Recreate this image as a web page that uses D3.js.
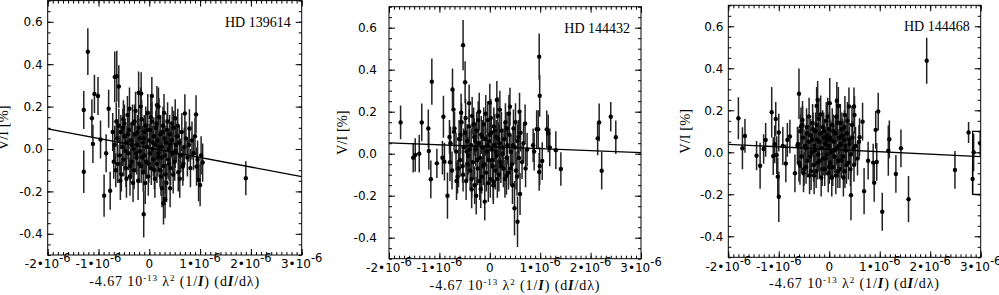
<!DOCTYPE html>
<html>
<head>
<meta charset="utf-8">
<script src="https://cdn.jsdelivr.net/npm/d3@7"></script>
<style>
body { margin: 0; background: #fff; }
</style>
</head>
<body>
<svg></svg>
<script>
var w = 999, h = 295

// star names, one per panel
var starNames = ["HD 139614", "HD 144432", "HD 144468"]

// tick values (x in units of 10^-6)
var xTicks = [-2, -1, 0, 1, 2, 3]
var yTicks = [-0.4, -0.2, 0.0, 0.2, 0.4, 0.6]

// [x (10^-6), V/I (%), error (%)]
var hd139614 = [
    [-1.29, 0.184, 0.09], [-1.29, -0.107, 0.10], [-1.21, 0.459, 0.11], [-1.13, 0.145, 0.09],
    [-1.11, 0.024, 0.09], [-1.08, 0.26, 0.09], [-1.01, 0.25, 0.09], [-0.96, 0.045, 0.09],
    [-0.89, -0.22, 0.10], [-0.85, -0.02, 0.09], [-0.80, 0.19, 0.09], [-0.77, -0.197, 0.09],
    [-0.68, 0.34, 0.12], [-0.64, 0.343, 0.12], [-0.60, 0.295, 0.10], [-0.21, 0.265, 0.10],
    [-0.16, 0.262, 0.10], [-0.11, -0.308, 0.11], [0.05, 0.25, 0.09], [0.15, 0.207, 0.09],
    [0.18, 0.20, 0.09], [0.25, -0.185, 0.09], [0.28, -0.256, 0.10], [0.31, -0.237, 0.09],
    [0.41, -0.185, 0.09], [0.51, 0.145, 0.09], [0.70, 0.168, 0.09], [0.79, 0.097, 0.09],
    [0.92, 0.163, 0.09], [0.97, -0.146, 0.10], [1.00, -0.17, 0.10], [1.05, -0.064, 0.09],
    [1.90, -0.138, 0.08], [0.93, -0.083, 0.09], [0.66, -0.083, 0.09],
    [-0.72, 0.08, 0.09], [-0.70, -0.06, 0.08], [-0.68, 0.02, 0.09], [-0.66, -0.10, 0.08],
    [-0.63, 0.05, 0.09], [-0.62, -0.07, 0.09], [-0.60, 0.11, 0.08], [-0.58, -0.03, 0.09],
    [-0.56, 0.08, 0.08], [-0.55, -0.12, 0.08], [-0.53, 0.01, 0.09], [-0.51, 0.14, 0.09],
    [-0.50, -0.05, 0.08], [-0.48, 0.06, 0.08], [-0.46, -0.09, 0.09], [-0.44, 0.03, 0.08],
    [-0.43, 0.16, 0.09], [-0.41, -0.02, 0.08], [-0.40, 0.09, 0.09], [-0.38, -0.13, 0.09],
    [-0.36, 0.04, 0.08], [-0.35, -0.06, 0.08], [-0.33, 0.12, 0.09], [-0.31, 0.00, 0.08],
    [-0.30, -0.10, 0.09], [-0.28, 0.07, 0.08], [-0.27, 0.18, 0.09], [-0.25, -0.04, 0.08],
    [-0.24, 0.02, 0.09], [-0.22, -0.15, 0.09], [-0.21, 0.10, 0.08], [-0.19, -0.01, 0.08],
    [-0.18, 0.05, 0.09], [-0.16, -0.08, 0.08], [-0.15, 0.14, 0.09], [-0.13, 0.03, 0.08],
    [-0.12, -0.11, 0.09], [-0.10, 0.08, 0.08], [-0.09, -0.03, 0.08], [-0.07, 0.11, 0.09],
    [-0.06, -0.06, 0.08], [-0.05, 0.01, 0.08], [-0.03, 0.17, 0.09], [-0.02, -0.13, 0.09],
    [0.00, 0.04, 0.08], [0.01, -0.02, 0.08], [0.02, 0.09, 0.09], [0.04, -0.09, 0.08],
    [0.05, 0.13, 0.09], [0.06, 0.00, 0.08], [0.08, -0.05, 0.08], [0.09, 0.06, 0.09],
    [0.11, -0.14, 0.09], [0.12, 0.02, 0.08], [0.13, 0.10, 0.08], [0.15, -0.07, 0.09],
    [0.16, 0.04, 0.08], [0.18, -0.02, 0.08], [0.19, 0.15, 0.09], [0.21, -0.10, 0.08],
    [0.22, 0.07, 0.09], [0.24, -0.04, 0.08], [0.25, 0.01, 0.08], [0.27, 0.11, 0.09],
    [0.28, -0.08, 0.08], [0.30, 0.05, 0.09], [0.32, -0.12, 0.09], [0.33, 0.03, 0.08],
    [0.35, 0.09, 0.08], [0.37, -0.05, 0.09], [0.38, 0.00, 0.08], [0.40, 0.07, 0.09],
    [0.42, -0.09, 0.08], [0.44, 0.04, 0.08], [0.46, -0.02, 0.09], [0.48, 0.10, 0.08],
    [0.50, -0.06, 0.09], [0.53, 0.02, 0.08], [0.55, 0.06, 0.09], [0.57, -0.11, 0.09],
    [0.59, 0.03, 0.08], [0.62, -0.03, 0.08], [0.64, 0.08, 0.09], [0.67, -0.07, 0.08],
    [0.69, 0.01, 0.09], [0.72, 0.05, 0.08], [0.75, -0.04, 0.09], [0.78, 0.02, 0.08],
    [0.81, -0.09, 0.09], [0.84, 0.04, 0.09], [0.87, -0.02, 0.08], [0.90, 0.06, 0.09],
    [0.95, -0.05, 0.09], [1.02, -0.03, 0.09],
    [-0.49, 0.12, 0.09], [-0.47, -0.01, 0.08], [-0.45, -0.14, 0.09], [-0.42, 0.07, 0.08],
    [-0.39, 0.19, 0.10], [-0.37, -0.08, 0.08], [-0.34, 0.02, 0.09], [-0.32, -0.16, 0.09],
    [-0.29, 0.13, 0.08], [-0.26, -0.02, 0.09], [-0.23, 0.08, 0.08], [-0.20, -0.07, 0.09],
    [-0.17, 0.20, 0.09], [-0.14, -0.04, 0.08], [-0.11, 0.05, 0.09], [-0.08, -0.16, 0.10],
    [-0.04, 0.09, 0.08], [-0.01, -0.07, 0.09], [0.03, 0.15, 0.09], [0.07, 0.03, 0.08],
    [0.10, -0.10, 0.09], [0.14, 0.12, 0.08], [0.17, -0.04, 0.09], [0.20, 0.01, 0.08],
    [0.23, -0.13, 0.09], [0.26, 0.08, 0.08], [0.29, 0.17, 0.09], [0.31, -0.03, 0.08],
    [0.34, -0.16, 0.09], [0.36, 0.13, 0.09], [0.39, -0.07, 0.08], [0.41, 0.02, 0.09],
    [0.45, 0.12, 0.08], [0.47, -0.12, 0.09], [0.51, -0.01, 0.08], [-0.52, 0.10, 0.09],
    [-0.57, -0.15, 0.09], [-0.65, 0.13, 0.09], [0.60, -0.14, 0.09], [0.56, 0.11, 0.08]
]

var hd144432 = [
    [-1.77, 0.149, 0.08], [-1.52, -0.019, 0.07], [-1.48, -0.006, 0.08], [-1.40, 0.00, 0.09],
    [-1.35, 0.149, 0.09], [-1.22, 0.12, 0.09], [-1.21, 0.013, 0.09], [-1.17, -0.122, 0.09],
    [-1.15, 0.343, 0.11], [-1.05, -0.046, 0.07], [-0.94, -0.019, 0.08], [-0.92, 0.176, 0.10],
    [-0.90, -0.038, 0.09], [-0.84, -0.20, 0.11], [-0.80, 0.08, 0.08], [-0.79, -0.041, 0.09],
    [-0.74, 0.306, 0.10], [-0.72, 0.21, 0.09], [-0.71, 0.105, 0.09], [-0.66, -0.13, 0.09],
    [-0.62, -0.07, 0.09], [-0.57, 0.195, 0.09], [-0.53, 0.517, 0.12], [-0.49, 0.34, 0.10],
    [-0.46, 0.01, 0.09], [-0.41, 0.24, 0.09], [-0.36, -0.17, 0.09], [-0.27, -0.20, 0.09],
    [-0.18, -0.168, 0.09], [-0.10, -0.228, 0.09], [0.00, 0.243, 0.09], [0.07, -0.133, 0.09],
    [0.14, 0.256, 0.09], [0.33, -0.105, 0.09], [0.40, 0.224, 0.09], [0.45, -0.15, 0.09],
    [0.49, -0.26, 0.13], [0.55, -0.324, 0.12], [0.60, -0.192, 0.10], [0.59, 0.20, 0.09],
    [0.70, 0.144, 0.09], [0.86, 0.04, 0.08], [0.88, 0.01, 0.09], [0.93, 0.117, 0.09],
    [0.96, 0.117, 0.09], [0.98, 0.462, 0.11], [0.99, 0.276, 0.10], [0.99, -0.059, 0.09],
    [0.98, -0.087, 0.09], [1.04, -0.035, 0.09], [1.13, 0.116, 0.09], [1.16, 0.097, 0.09],
    [1.19, 0.03, 0.09], [1.31, 0.017, 0.09], [1.41, -0.073, 0.08], [2.14, 0.073, 0.08],
    [2.17, 0.149, 0.09], [2.22, -0.081, 0.09], [2.40, 0.176, 0.07], [2.50, 0.078, 0.08],
    [-0.78, 0.05, 0.08], [-0.75, -0.08, 0.09], [-0.70, 0.12, 0.08], [-0.67, 0.01, 0.09],
    [-0.64, -0.11, 0.08], [-0.61, 0.07, 0.09], [-0.59, -0.03, 0.08], [-0.56, 0.15, 0.09],
    [-0.54, -0.06, 0.08], [-0.52, 0.03, 0.09], [-0.49, 0.10, 0.08], [-0.47, -0.13, 0.09],
    [-0.45, 0.06, 0.08], [-0.43, -0.01, 0.09], [-0.41, 0.13, 0.08], [-0.39, -0.08, 0.09],
    [-0.37, 0.04, 0.08], [-0.35, 0.18, 0.09], [-0.33, -0.04, 0.08], [-0.31, 0.08, 0.09],
    [-0.30, -0.15, 0.09], [-0.28, 0.02, 0.08], [-0.26, 0.11, 0.09], [-0.24, -0.07, 0.08],
    [-0.22, 0.05, 0.09], [-0.21, 0.20, 0.09], [-0.19, -0.02, 0.08], [-0.17, 0.09, 0.09],
    [-0.16, -0.11, 0.08], [-0.14, 0.03, 0.09], [-0.12, 0.14, 0.08], [-0.11, -0.05, 0.09],
    [-0.09, 0.07, 0.08], [-0.07, -0.09, 0.09], [-0.06, 0.01, 0.08], [-0.04, 0.16, 0.09],
    [-0.02, -0.03, 0.08], [-0.01, 0.06, 0.09], [0.01, -0.12, 0.09], [0.03, 0.10, 0.08],
    [0.04, 0.02, 0.09], [0.06, -0.06, 0.08], [0.08, 0.13, 0.09], [0.09, 0.04, 0.08],
    [0.11, -0.08, 0.09], [0.13, 0.08, 0.08], [0.14, -0.01, 0.09], [0.16, 0.18, 0.09],
    [0.18, -0.10, 0.08], [0.19, 0.05, 0.09], [0.21, -0.04, 0.08], [0.23, 0.11, 0.09],
    [0.25, 0.00, 0.08], [0.27, -0.07, 0.09], [0.29, 0.07, 0.08], [0.31, 0.15, 0.09],
    [0.33, -0.02, 0.08], [0.35, 0.04, 0.09], [0.37, -0.09, 0.08], [0.39, 0.09, 0.09],
    [0.42, 0.01, 0.08], [0.44, -0.05, 0.09], [0.47, 0.12, 0.09], [0.50, 0.03, 0.08],
    [0.52, -0.08, 0.09], [0.55, 0.06, 0.08], [0.58, -0.02, 0.09], [0.61, 0.10, 0.09],
    [0.64, -0.04, 0.08], [0.67, 0.05, 0.09], [0.71, -0.07, 0.09], [0.74, 0.02, 0.08],
    [-0.58, 0.09, 0.09], [-0.53, -0.10, 0.08], [-0.48, 0.17, 0.09], [-0.44, -0.05, 0.08],
    [-0.40, 0.02, 0.09], [-0.36, -0.12, 0.09], [-0.32, 0.14, 0.08], [-0.29, 0.06, 0.09],
    [-0.25, -0.03, 0.08], [-0.23, 0.16, 0.09], [-0.20, -0.13, 0.09], [-0.15, 0.08, 0.08],
    [-0.13, -0.06, 0.09], [-0.08, 0.19, 0.09], [-0.05, 0.04, 0.08], [-0.03, -0.14, 0.09],
    [0.00, 0.09, 0.08], [0.02, 0.17, 0.09], [0.05, -0.03, 0.08], [0.07, -0.15, 0.09],
    [0.10, 0.11, 0.08], [0.12, 0.01, 0.09], [0.15, -0.12, 0.09], [0.17, 0.07, 0.08],
    [0.20, 0.21, 0.09], [0.22, -0.06, 0.08], [0.26, 0.03, 0.09], [0.30, -0.12, 0.09],
    [0.34, 0.12, 0.08], [0.38, 0.19, 0.09], [0.41, -0.07, 0.08], [0.46, 0.04, 0.09],
    [0.51, 0.15, 0.09], [0.54, -0.11, 0.09], [0.57, 0.08, 0.08]
]

var hd144468 = [
    [-1.80, 0.162, 0.10], [-1.72, 0.019, 0.10], [-1.67, 0.078, 0.08], [-1.44, -0.016, 0.07],
    [-1.37, -0.064, 0.11], [-1.30, 0.016, 0.07], [-1.26, 0.059, 0.08], [-1.14, 0.191, 0.12],
    [-1.11, -0.018, 0.09], [-1.08, 0.038, 0.09], [-1.06, 0.159, 0.08], [-1.04, -0.013, 0.09],
    [-1.02, -0.116, 0.09], [-1.00, -0.212, 0.12], [-1.00, 0.094, 0.09], [-0.92, 0.03, 0.09],
    [-0.86, -0.053, 0.09], [-0.83, 0.059, 0.08], [-0.78, 0.075, 0.08], [-0.68, -0.10, 0.09],
    [-0.63, 0.032, 0.09], [-0.60, 0.279, 0.12], [-0.58, -0.064, 0.09], [-0.56, 0.123, 0.09],
    [-0.53, 0.154, 0.09], [-0.51, -0.10, 0.09], [-0.25, 0.221, 0.09], [-0.23, 0.25, 0.09],
    [0.01, 0.234, 0.12], [0.15, 0.245, 0.09], [0.18, 0.221, 0.09], [0.31, 0.178, 0.09],
    [0.39, 0.218, 0.09], [0.43, -0.204, 0.12], [0.49, 0.218, 0.09], [0.50, 0.178, 0.09],
    [0.60, 0.072, 0.09], [0.66, 0.146, 0.09], [0.69, -0.185, 0.11], [0.77, -0.04, 0.09],
    [0.87, -0.049, 0.09], [0.89, -0.145, 0.09], [0.92, 0.107, 0.09], [0.94, -0.046, 0.09],
    [0.97, 0.194, 0.09], [1.05, -0.283, 0.09], [1.17, 0.008, 0.12], [1.19, 0.062, 0.09],
    [1.32, -0.103, 0.09], [1.42, 0.019, 0.09], [1.57, -0.223, 0.11], [1.93, 0.436, 0.11],
    [2.49, -0.084, 0.09], [2.76, 0.094, 0.05], [2.84, -0.127, 0.07], [2.86, 0.00, 0.09],
    [2.99, 0.043, 0.06],
    [-0.62, 0.04, 0.08], [-0.60, -0.05, 0.09], [-0.57, 0.10, 0.08], [-0.55, -0.02, 0.08],
    [-0.52, 0.07, 0.09], [-0.50, -0.08, 0.08], [-0.47, 0.02, 0.08], [-0.45, 0.12, 0.09],
    [-0.43, -0.04, 0.08], [-0.41, 0.05, 0.08], [-0.39, -0.11, 0.09], [-0.37, 0.08, 0.08],
    [-0.35, 0.00, 0.08], [-0.33, 0.14, 0.09], [-0.31, -0.06, 0.08], [-0.29, 0.03, 0.08],
    [-0.27, 0.10, 0.09], [-0.26, -0.09, 0.08], [-0.24, 0.06, 0.08], [-0.22, -0.01, 0.08],
    [-0.21, 0.16, 0.09], [-0.19, -0.04, 0.08], [-0.18, 0.09, 0.08], [-0.16, -0.12, 0.09],
    [-0.15, 0.02, 0.08], [-0.13, 0.12, 0.08], [-0.12, -0.03, 0.08], [-0.10, 0.07, 0.09],
    [-0.09, -0.08, 0.08], [-0.08, 0.04, 0.08], [-0.06, 0.15, 0.09], [-0.05, -0.01, 0.08],
    [-0.04, 0.08, 0.08], [-0.02, -0.10, 0.09], [-0.01, 0.03, 0.08], [0.00, 0.11, 0.08],
    [0.02, -0.05, 0.08], [0.03, 0.06, 0.09], [0.04, 0.00, 0.08], [0.06, 0.13, 0.08],
    [0.07, -0.07, 0.09], [0.09, 0.05, 0.08], [0.10, -0.02, 0.08], [0.12, 0.09, 0.08],
    [0.13, -0.11, 0.09], [0.15, 0.02, 0.08], [0.16, 0.14, 0.09], [0.18, -0.04, 0.08],
    [0.20, 0.07, 0.08], [0.21, -0.08, 0.09], [0.23, 0.04, 0.08], [0.25, 0.11, 0.08],
    [0.27, -0.02, 0.08], [0.29, 0.06, 0.09], [0.31, -0.09, 0.08], [0.33, 0.01, 0.08],
    [0.35, 0.09, 0.09], [0.38, -0.05, 0.08], [0.40, 0.04, 0.08], [0.43, -0.01, 0.09],
    [0.46, 0.07, 0.08], [0.49, -0.06, 0.08], [0.52, 0.03, 0.09], [0.56, -0.03, 0.08],
    [0.59, 0.05, 0.08],
    [-0.46, -0.07, 0.08], [-0.44, 0.09, 0.09], [-0.40, 0.17, 0.09], [-0.38, -0.02, 0.08],
    [-0.36, -0.09, 0.09], [-0.34, 0.06, 0.08], [-0.32, 0.11, 0.08], [-0.30, -0.11, 0.09],
    [-0.28, 0.01, 0.08], [-0.25, 0.13, 0.09], [-0.23, -0.05, 0.08], [-0.20, 0.05, 0.08],
    [-0.17, 0.18, 0.09], [-0.14, -0.08, 0.08], [-0.11, 0.10, 0.09], [-0.07, -0.03, 0.08],
    [-0.05, 0.06, 0.08], [-0.03, 0.17, 0.09], [0.00, -0.07, 0.08], [0.01, 0.07, 0.09],
    [0.05, -0.12, 0.09], [0.08, 0.10, 0.08], [0.11, 0.01, 0.08], [0.14, 0.17, 0.09],
    [0.17, -0.09, 0.08], [0.19, 0.03, 0.08], [0.22, 0.14, 0.09], [0.24, -0.04, 0.08],
    [0.26, 0.08, 0.08], [0.28, -0.12, 0.09], [0.30, 0.12, 0.08], [0.32, 0.03, 0.08],
    [0.34, -0.06, 0.09], [0.36, 0.15, 0.09], [0.39, 0.06, 0.08], [0.42, -0.08, 0.08],
    [0.45, 0.13, 0.09], [0.48, 0.02, 0.08], [-0.48, 0.03, 0.08], [-0.53, 0.13, 0.09]
]

// linear fits: value at x = -2 and x = 3
var fits = [
    [[-2, 0.095], [3, -0.13]],
    [[-2, 0.052], [3, 0.005]],
    [[-2, 0.038], [3, -0.021]]
]

// odd bracket at the right edge of the third panel
var extraPaths = [[], [], [[3, 0.1], [2.84, 0.1], [2.84, -0.2], [3, -0.2]]]

var datasets = [hd139614, hd144432, hd144468]

// panel boxes
var frames = [
    { left: 47.7, top: 0.6, width: 254, height: 254.4, gap: 5, titleX: 8 },
    { left: 389, top: 6.7, width: 252, height: 252, gap: 12, titleX: 347 },
    { left: 728.3, top: 5.3, width: 252.4, height: 252, gap: 5, titleX: 690 }
]

var svg = d3.select("svg")
    .attr("width", w)
    .attr("height", h)

var defs = svg.append("defs")

var sans = "DejaVu Sans"
var serif = "Liberation Serif"

function xLabel(sel, d)
{
    if (d === 0) { sel.text("0"); return }
    sel.append("tspan").text(d + "\u202210")
    sel.append("tspan").attr("dy", -6).attr("font-size", 11.5).text("-6")
}

frames.forEach(function(f, i)
{
    var x = d3.scaleLinear().domain([-2, 3]).range([0, f.width])
    var y = d3.scaleLinear().domain([-0.5, 0.7]).range([f.height, 0])

    var g = svg.append("g")
        .attr("transform", "translate(" + f.left + "," + f.top + ")")

    defs.append("clipPath")
        .attr("id", "clip" + i)
        .append("rect")
        .attr("width", f.width)
        .attr("height", f.height)

    var xMinor = d3.range(-20, 31).map(function(v) { return v / 10 })
    var yMinor = d3.range(-10, 15).map(function(v) { return v / 20 })

    // ticks on all four sides, pointing inward
    var axes = [
        [d3.axisBottom(x).tickValues(xTicks).tickSize(-6), "translate(0," + f.height + ")"],
        [d3.axisBottom(x).tickValues(xMinor).tickSize(-3), "translate(0," + f.height + ")"],
        [d3.axisTop(x).tickValues(xTicks).tickSize(-6), null],
        [d3.axisTop(x).tickValues(xMinor).tickSize(-3), null],
        [d3.axisLeft(y).tickValues(yTicks).tickSize(-6), null],
        [d3.axisLeft(y).tickValues(yMinor).tickSize(-3), null],
        [d3.axisRight(y).tickValues(yTicks).tickSize(-6), "translate(" + f.width + ",0)"],
        [d3.axisRight(y).tickValues(yMinor).tickSize(-3), "translate(" + f.width + ",0)"]
    ]
    axes.forEach(function(a)
    {
        var ag = g.append("g")
        if (a[1]) ag.attr("transform", a[1])
        ag.call(a[0].tickFormat(""))
        ag.select(".domain").remove()
        ag.selectAll("line").attr("stroke", "#000").attr("stroke-width", 1)
    })

    // y tick labels
    g.selectAll(".ylab")
        .data(yTicks)
        .join("text")
        .attr("class", "ylab")
        .attr("x", -f.gap)
        .attr("y", function(d) { return y(d) + 4.5 })
        .attr("text-anchor", "end")
        .attr("font-family", sans)
        .attr("font-size", 12)
        .text(function(d) { return d.toFixed(1) })

    // x tick labels
    g.selectAll(".xlab")
        .data(xTicks)
        .join("text")
        .attr("class", "xlab")
        .attr("x", function(d) { return x(d) })
        .attr("y", f.height + 13.5)
        .attr("text-anchor", "middle")
        .attr("font-family", sans)
        .attr("font-size", 12)
        .each(function(d) { xLabel(d3.select(this), d) })

    // axis titles
    var xt = g.append("text")
        .attr("x", f.width / 2)
        .attr("y", f.height + 31)
        .attr("text-anchor", "middle")
        .attr("font-family", serif)
        .attr("font-size", 14)
        .attr("letter-spacing", 0.9)
    xt.append("tspan").text("-4.67 10")
    xt.append("tspan").attr("dy", -5).attr("font-size", 9).text("-13")
    xt.append("tspan").attr("dy", 5).text(" \u03bb")
    xt.append("tspan").attr("dy", -5).attr("font-size", 9).text("2")
    xt.append("tspan").attr("dy", 5).text(" (1/")
    xt.append("tspan").attr("font-weight", "bold").attr("font-style", "italic").text("I")
    xt.append("tspan").text(") (d")
    xt.append("tspan").attr("font-weight", "bold").attr("font-style", "italic").text("I")
    xt.append("tspan").text("/d\u03bb)")

    svg.append("text")
        .attr("transform", "translate(" + f.titleX + "," + (f.top + f.height / 2) + ") rotate(-90)")
        .attr("text-anchor", "middle")
        .attr("font-family", serif)
        .attr("font-size", 14.5)
        .text("V/I [%]")

    g.append("text")
        .attr("x", f.width - 11)
        .attr("y", 26)
        .attr("text-anchor", "end")
        .attr("font-family", serif)
        .attr("font-size", 14)
        .text(starNames[i])

    var plot = g.append("g").attr("clip-path", "url(#clip" + i + ")")

    // error bars
    plot.selectAll(".err")
        .data(datasets[i])
        .join("line")
        .attr("class", "err")
        .attr("x1", function(d) { return x(d[0]) })
        .attr("x2", function(d) { return x(d[0]) })
        .attr("y1", function(d) { return y(d[1] - d[2]) })
        .attr("y2", function(d) { return y(d[1] + d[2]) })
        .attr("stroke", "#222")
        .attr("stroke-width", 1.5)

    plot.selectAll(".pt")
        .data(datasets[i])
        .join("circle")
        .attr("class", "pt")
        .attr("cx", function(d) { return x(d[0]) })
        .attr("cy", function(d) { return y(d[1]) })
        .attr("r", 2.2)
        .attr("fill", "#000")

    var line = d3.line()
        .x(function(d) { return x(d[0]) })
        .y(function(d) { return y(d[1]) })

    plot.append("path")
        .attr("d", line(fits[i]))
        .attr("fill", "none")
        .attr("stroke", "#000")
        .attr("stroke-width", 1.3)

    if (extraPaths[i].length)
        plot.append("path")
            .attr("d", line(extraPaths[i]))
            .attr("fill", "none")
            .attr("stroke", "#000")
            .attr("stroke-width", 1.2)

    // frame
    g.append("rect")
        .attr("width", f.width)
        .attr("height", f.height)
        .attr("fill", "none")
        .attr("stroke", "#000")
        .attr("stroke-width", 1)
})
</script>
</body>
</html>
